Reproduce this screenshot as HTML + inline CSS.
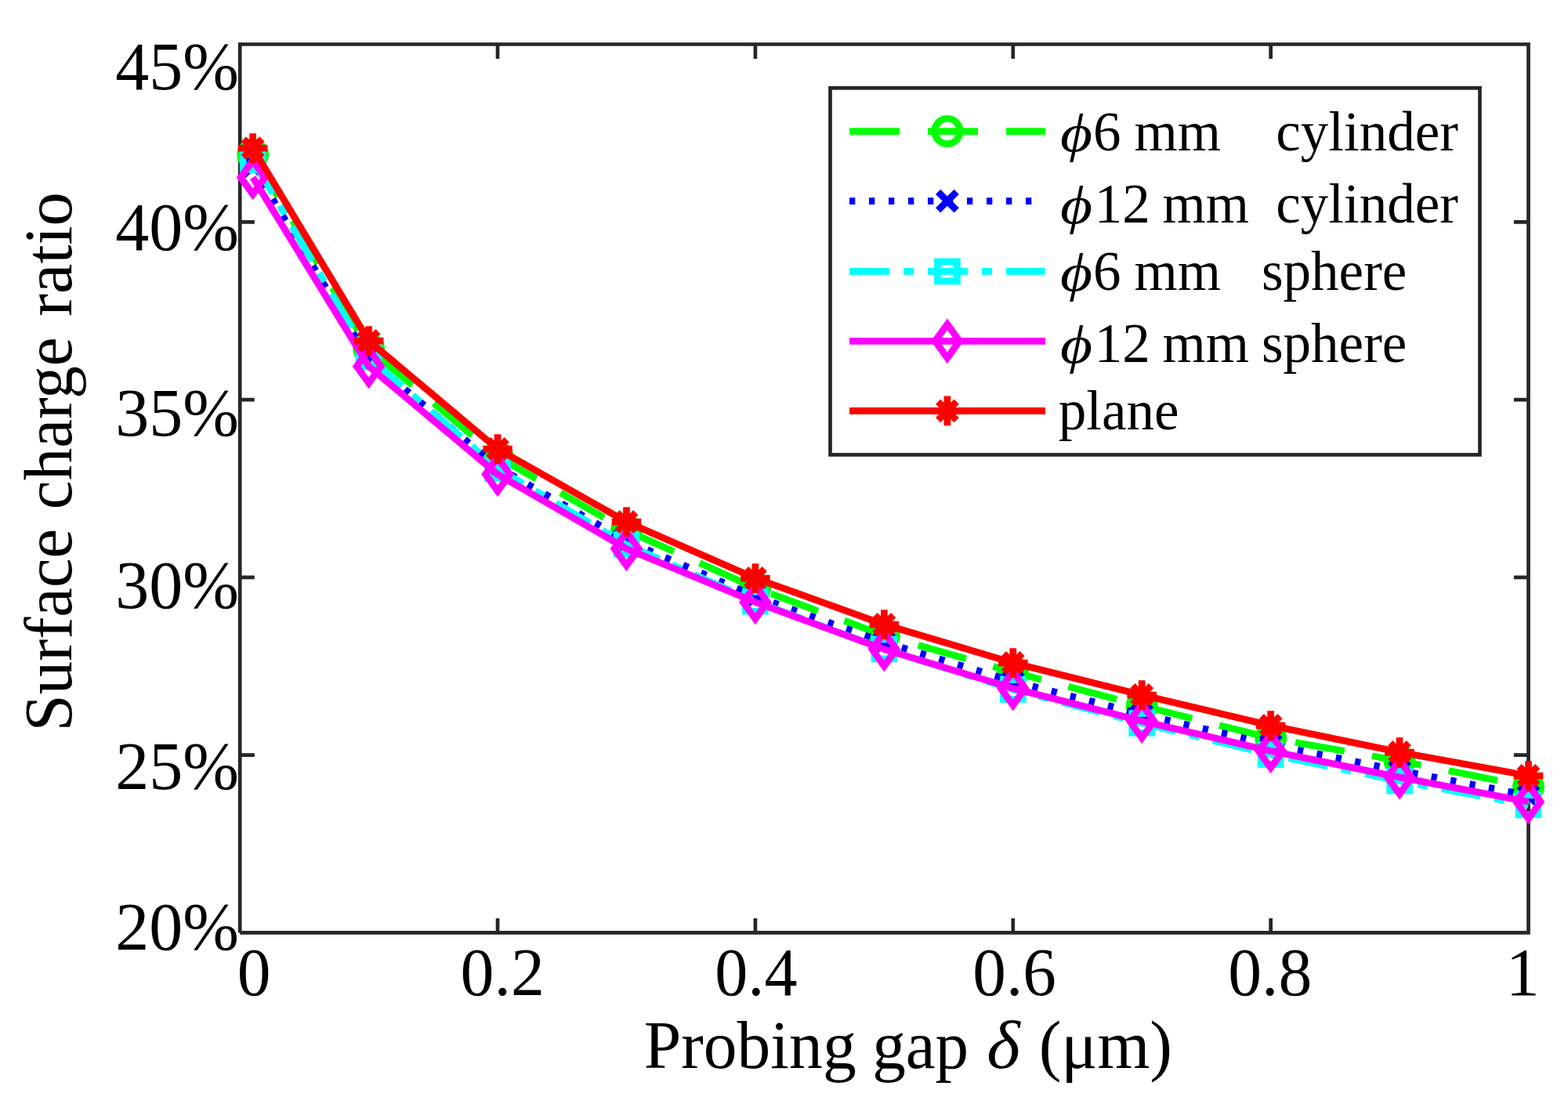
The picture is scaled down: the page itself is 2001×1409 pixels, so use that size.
<!DOCTYPE html>
<html><head><meta charset="utf-8"><title>Surface charge ratio vs probing gap</title>
<style>html,body{margin:0;padding:0;background:#fff;overflow:hidden}svg{display:block}</style></head>
<body>
<svg width="2001" height="1409" viewBox="0 0 2001 1409">
<path d="M635.06,1190.4V1172M635.06,56.5V74.9M963.92,1190.4V1172M963.92,56.5V74.9M1292.78,1190.4V1172M1292.78,56.5V74.9M1621.64,1190.4V1172M1621.64,56.5V74.9M306.2,963.62H324.8M1950.5,963.62H1931.9M306.2,736.84H324.8M1950.5,736.84H1931.9M306.2,510.06H324.8M1950.5,510.06H1931.9M306.2,283.28H324.8M1950.5,283.28H1931.9" stroke="#262626" stroke-width="4.7" fill="none"/>
<path d="M306.2,1190.4V56.5H1950.5V1190.4H306.2" stroke="#262626" stroke-width="4.7" fill="none"/>
<polyline points="322.64,197 470.63,445 635.06,583 799.49,677 963.92,750.3 1128.35,811 1292.78,857.8 1457.21,901 1621.64,942 1786.07,971 1950.5,1004" stroke="#00ff00" stroke-width="8.75" fill="none" stroke-dasharray="63.65 35.8" stroke-dashoffset="0.7"/>
<circle cx="322.64" cy="197" r="16.1" stroke="#00ff00" stroke-width="8.75" fill="none"/>
<circle cx="470.63" cy="445" r="16.1" stroke="#00ff00" stroke-width="8.75" fill="none"/>
<circle cx="635.06" cy="583" r="16.1" stroke="#00ff00" stroke-width="8.75" fill="none"/>
<circle cx="799.49" cy="677" r="16.1" stroke="#00ff00" stroke-width="8.75" fill="none"/>
<circle cx="963.92" cy="750.3" r="16.1" stroke="#00ff00" stroke-width="8.75" fill="none"/>
<circle cx="1128.35" cy="811" r="16.1" stroke="#00ff00" stroke-width="8.75" fill="none"/>
<circle cx="1292.78" cy="857.8" r="16.1" stroke="#00ff00" stroke-width="8.75" fill="none"/>
<circle cx="1457.21" cy="901" r="16.1" stroke="#00ff00" stroke-width="8.75" fill="none"/>
<circle cx="1621.64" cy="942" r="16.1" stroke="#00ff00" stroke-width="8.75" fill="none"/>
<circle cx="1786.07" cy="971" r="16.1" stroke="#00ff00" stroke-width="8.75" fill="none"/>
<circle cx="1950.5" cy="1004" r="16.1" stroke="#00ff00" stroke-width="8.75" fill="none"/>
<polyline points="322.64,212 470.63,458 635.06,596 799.49,690 963.92,761 1128.35,819.6 1292.78,869.5 1457.21,911.5 1621.64,950 1786.07,983.4 1950.5,1015" stroke="#0000ff" stroke-width="8.75" fill="none" stroke-dasharray="7.26 17.6" stroke-dashoffset="0.7"/>
<path d="M310.84,200.2L334.44,223.8M334.44,200.2L310.84,223.8" stroke="#0000ff" stroke-width="8.75" fill="none"/>
<path d="M458.83,446.2L482.43,469.8M482.43,446.2L458.83,469.8" stroke="#0000ff" stroke-width="8.75" fill="none"/>
<path d="M623.26,584.2L646.86,607.8M646.86,584.2L623.26,607.8" stroke="#0000ff" stroke-width="8.75" fill="none"/>
<path d="M787.69,678.2L811.29,701.8M811.29,678.2L787.69,701.8" stroke="#0000ff" stroke-width="8.75" fill="none"/>
<path d="M952.12,749.2L975.72,772.8M975.72,749.2L952.12,772.8" stroke="#0000ff" stroke-width="8.75" fill="none"/>
<path d="M1116.55,807.8L1140.15,831.4M1140.15,807.8L1116.55,831.4" stroke="#0000ff" stroke-width="8.75" fill="none"/>
<path d="M1280.98,857.7L1304.58,881.3M1304.58,857.7L1280.98,881.3" stroke="#0000ff" stroke-width="8.75" fill="none"/>
<path d="M1445.41,899.7L1469.01,923.3M1469.01,899.7L1445.41,923.3" stroke="#0000ff" stroke-width="8.75" fill="none"/>
<path d="M1609.84,938.2L1633.44,961.8M1633.44,938.2L1609.84,961.8" stroke="#0000ff" stroke-width="8.75" fill="none"/>
<path d="M1774.27,971.6L1797.87,995.2M1797.87,971.6L1774.27,995.2" stroke="#0000ff" stroke-width="8.75" fill="none"/>
<path d="M1938.7,1003.2L1962.3,1026.8M1962.3,1003.2L1938.7,1026.8" stroke="#0000ff" stroke-width="8.75" fill="none"/>
<polyline points="322.64,204 470.63,456 635.06,598 799.49,695 963.92,767.7 1128.35,828.4 1292.78,880 1457.21,923 1621.64,963 1786.07,996.8 1950.5,1027.3" stroke="#00ffff" stroke-width="8.75" fill="none" stroke-dasharray="50.72 17.9 12.93 17.9" stroke-dashoffset="0.7"/>
<rect x="310.19" y="191.55" width="24.9" height="24.9" stroke="#00ffff" stroke-width="8.75" fill="none"/>
<rect x="458.18" y="443.55" width="24.9" height="24.9" stroke="#00ffff" stroke-width="8.75" fill="none"/>
<rect x="622.61" y="585.55" width="24.9" height="24.9" stroke="#00ffff" stroke-width="8.75" fill="none"/>
<rect x="787.04" y="682.55" width="24.9" height="24.9" stroke="#00ffff" stroke-width="8.75" fill="none"/>
<rect x="951.47" y="755.25" width="24.9" height="24.9" stroke="#00ffff" stroke-width="8.75" fill="none"/>
<rect x="1115.9" y="815.95" width="24.9" height="24.9" stroke="#00ffff" stroke-width="8.75" fill="none"/>
<rect x="1280.33" y="867.55" width="24.9" height="24.9" stroke="#00ffff" stroke-width="8.75" fill="none"/>
<rect x="1444.76" y="910.55" width="24.9" height="24.9" stroke="#00ffff" stroke-width="8.75" fill="none"/>
<rect x="1609.19" y="950.55" width="24.9" height="24.9" stroke="#00ffff" stroke-width="8.75" fill="none"/>
<rect x="1773.62" y="984.35" width="24.9" height="24.9" stroke="#00ffff" stroke-width="8.75" fill="none"/>
<rect x="1938.05" y="1014.85" width="24.9" height="24.9" stroke="#00ffff" stroke-width="8.75" fill="none"/>
<polyline points="322.64,226.4 470.63,467.5 635.06,605.3 799.49,700.3 963.92,768.5 1128.35,828.6 1292.78,878.6 1457.21,920.3 1621.64,958.5 1786.07,992 1950.5,1023.3" stroke="#ff00ff" stroke-width="8.75" fill="none"/>
<path d="M322.64,205L338.14,226.4L322.64,247.8L307.14,226.4Z" stroke="#ff00ff" stroke-width="8.75" fill="none"/>
<path d="M470.63,446.1L486.13,467.5L470.63,488.9L455.13,467.5Z" stroke="#ff00ff" stroke-width="8.75" fill="none"/>
<path d="M635.06,583.9L650.56,605.3L635.06,626.7L619.56,605.3Z" stroke="#ff00ff" stroke-width="8.75" fill="none"/>
<path d="M799.49,678.9L814.99,700.3L799.49,721.7L783.99,700.3Z" stroke="#ff00ff" stroke-width="8.75" fill="none"/>
<path d="M963.92,747.1L979.42,768.5L963.92,789.9L948.42,768.5Z" stroke="#ff00ff" stroke-width="8.75" fill="none"/>
<path d="M1128.35,807.2L1143.85,828.6L1128.35,850L1112.85,828.6Z" stroke="#ff00ff" stroke-width="8.75" fill="none"/>
<path d="M1292.78,857.2L1308.28,878.6L1292.78,900L1277.28,878.6Z" stroke="#ff00ff" stroke-width="8.75" fill="none"/>
<path d="M1457.21,898.9L1472.71,920.3L1457.21,941.7L1441.71,920.3Z" stroke="#ff00ff" stroke-width="8.75" fill="none"/>
<path d="M1621.64,937.1L1637.14,958.5L1621.64,979.9L1606.14,958.5Z" stroke="#ff00ff" stroke-width="8.75" fill="none"/>
<path d="M1786.07,970.6L1801.57,992L1786.07,1013.4L1770.57,992Z" stroke="#ff00ff" stroke-width="8.75" fill="none"/>
<path d="M1950.5,1001.9L1966,1023.3L1950.5,1044.7L1935,1023.3Z" stroke="#ff00ff" stroke-width="8.75" fill="none"/>
<polyline points="322.64,189.1 470.63,435 635.06,573 799.49,666 963.92,738 1128.35,797 1292.78,846 1457.21,887 1621.64,926 1786.07,960 1950.5,990" stroke="#ff0000" stroke-width="8.75" fill="none"/>
<path d="M322.64,170.3V207.9M303.84,189.1H341.44M310.84,177.3L334.44,200.9M334.44,177.3L310.84,200.9" stroke="#ff0000" stroke-width="8.75" fill="none"/>
<path d="M470.63,416.2V453.8M451.83,435H489.43M458.83,423.2L482.43,446.8M482.43,423.2L458.83,446.8" stroke="#ff0000" stroke-width="8.75" fill="none"/>
<path d="M635.06,554.2V591.8M616.26,573H653.86M623.26,561.2L646.86,584.8M646.86,561.2L623.26,584.8" stroke="#ff0000" stroke-width="8.75" fill="none"/>
<path d="M799.49,647.2V684.8M780.69,666H818.29M787.69,654.2L811.29,677.8M811.29,654.2L787.69,677.8" stroke="#ff0000" stroke-width="8.75" fill="none"/>
<path d="M963.92,719.2V756.8M945.12,738H982.72M952.12,726.2L975.72,749.8M975.72,726.2L952.12,749.8" stroke="#ff0000" stroke-width="8.75" fill="none"/>
<path d="M1128.35,778.2V815.8M1109.55,797H1147.15M1116.55,785.2L1140.15,808.8M1140.15,785.2L1116.55,808.8" stroke="#ff0000" stroke-width="8.75" fill="none"/>
<path d="M1292.78,827.2V864.8M1273.98,846H1311.58M1280.98,834.2L1304.58,857.8M1304.58,834.2L1280.98,857.8" stroke="#ff0000" stroke-width="8.75" fill="none"/>
<path d="M1457.21,868.2V905.8M1438.41,887H1476.01M1445.41,875.2L1469.01,898.8M1469.01,875.2L1445.41,898.8" stroke="#ff0000" stroke-width="8.75" fill="none"/>
<path d="M1621.64,907.2V944.8M1602.84,926H1640.44M1609.84,914.2L1633.44,937.8M1633.44,914.2L1609.84,937.8" stroke="#ff0000" stroke-width="8.75" fill="none"/>
<path d="M1786.07,941.2V978.8M1767.27,960H1804.87M1774.27,948.2L1797.87,971.8M1797.87,948.2L1774.27,971.8" stroke="#ff0000" stroke-width="8.75" fill="none"/>
<path d="M1950.5,971.2V1008.8M1931.7,990H1969.3M1938.7,978.2L1962.3,1001.8M1962.3,978.2L1938.7,1001.8" stroke="#ff0000" stroke-width="8.75" fill="none"/>
<rect x="1059.5" y="112.35" width="829" height="468.05" fill="#fff" stroke="#262626" stroke-width="4.7"/>
<line x1="1084" y1="167.5" x2="1334" y2="167.5" stroke="#00ff00" stroke-width="8.75" stroke-dasharray="64 36"/>
<circle cx="1208.9" cy="167.5" r="16.1" stroke="#00ff00" stroke-width="8.75" fill="none"/>
<line x1="1084" y1="256.6" x2="1334" y2="256.6" stroke="#0000ff" stroke-width="8.75" stroke-dasharray="7.3 17.7"/>
<path d="M1197.1,244.8L1220.7,268.4M1220.7,244.8L1197.1,268.4" stroke="#0000ff" stroke-width="8.75" fill="none"/>
<line x1="1084" y1="346.4" x2="1334" y2="346.4" stroke="#00ffff" stroke-width="8.75" stroke-dasharray="51 18 13 18"/>
<rect x="1196.45" y="333.95" width="24.9" height="24.9" stroke="#00ffff" stroke-width="8.75" fill="none"/>
<line x1="1084" y1="435.3" x2="1334" y2="435.3" stroke="#ff00ff" stroke-width="8.75"/>
<path d="M1208.9,413.9L1224.4,435.3L1208.9,456.7L1193.4,435.3Z" stroke="#ff00ff" stroke-width="8.75" fill="none"/>
<line x1="1084" y1="524.4" x2="1334" y2="524.4" stroke="#ff0000" stroke-width="8.75"/>
<path d="M1208.9,505.6V543.2M1190.1,524.4H1227.7M1197.1,512.6L1220.7,536.2M1220.7,512.6L1197.1,536.2" stroke="#ff0000" stroke-width="8.75" fill="none"/>
<text x="147.3" y="113.99" font-size="86" font-family="'Liberation Serif', 'Times New Roman', serif">45%</text>
<text x="147.3" y="319.19" font-size="86" font-family="'Liberation Serif', 'Times New Roman', serif">40%</text>
<text x="147.3" y="555.89" font-size="86" font-family="'Liberation Serif', 'Times New Roman', serif">35%</text>
<text x="147.3" y="776.19" font-size="86" font-family="'Liberation Serif', 'Times New Roman', serif">30%</text>
<text x="147.3" y="1007.19" font-size="86" font-family="'Liberation Serif', 'Times New Roman', serif">25%</text>
<text x="147.3" y="1211.89" font-size="86" font-family="'Liberation Serif', 'Times New Roman', serif">20%</text>
<text transform="translate(302.74,1269.8) scale(0.9959,1)" font-size="86" font-family="'Liberation Serif', 'Times New Roman', serif">0</text>
<text x="587.51" y="1269.8" font-size="86" font-family="'Liberation Serif', 'Times New Roman', serif">0.2</text>
<text transform="translate(912.29,1269.8) scale(0.9788,1)" font-size="86" font-family="'Liberation Serif', 'Times New Roman', serif">0.4</text>
<text transform="translate(1241.36,1269.8) scale(0.9905,1)" font-size="86" font-family="'Liberation Serif', 'Times New Roman', serif">0.6</text>
<text transform="translate(1567.24,1269.8) scale(0.9956,1)" font-size="86" font-family="'Liberation Serif', 'Times New Roman', serif">0.8</text>
<text x="1921.8" y="1269.8" font-size="86" font-family="'Liberation Serif', 'Times New Roman', serif">1</text>
<text transform="translate(821.73,1362.8) scale(0.9950,1)" font-size="86" font-family="'Liberation Serif', 'Times New Roman', serif">Probing</text>
<text transform="translate(1113.14,1362.8) scale(0.9896,1)" font-size="86" font-family="'Liberation Serif', 'Times New Roman', serif">gap</text>
<text transform="translate(1259.32,1362.8) scale(1.0624,1)" font-size="86" font-family="'Liberation Serif', 'Times New Roman', serif" font-style="italic">&#x3b4;</text>
<text x="1325.71" y="1362.8" font-size="86" font-family="'Liberation Serif', 'Times New Roman', serif">(&#x3bc;m)</text>
<text transform="translate(91.3,933.46) rotate(-90) scale(0.9847,1)" font-size="86" font-family="'Liberation Serif', 'Times New Roman', serif">Surface</text>
<text transform="translate(91.3,650.16) rotate(-90) scale(0.9655,1)" font-size="86" font-family="'Liberation Serif', 'Times New Roman', serif">charge</text>
<text transform="translate(91.3,403.73) rotate(-90) scale(1.0066,1)" font-size="86" font-family="'Liberation Serif', 'Times New Roman', serif">ratio</text>
<text transform="translate(1353.08,193.3) scale(1.12,0.95)" font-size="71" font-family="'Liberation Serif', 'Times New Roman', serif" font-style="italic">&#x3d5;</text>
<text x="1394.95" y="192.3" font-size="71" font-family="'Liberation Serif', 'Times New Roman', serif">6</text>
<text x="1447.51" y="192.3" font-size="71" font-family="'Liberation Serif', 'Times New Roman', serif">mm</text>
<text x="1628.3" y="192.3" font-size="71" font-family="'Liberation Serif', 'Times New Roman', serif">cylinder</text>
<text transform="translate(1353.08,285) scale(1.12,0.95)" font-size="71" font-family="'Liberation Serif', 'Times New Roman', serif" font-style="italic">&#x3d5;</text>
<text x="1396.76" y="284" font-size="71" font-family="'Liberation Serif', 'Times New Roman', serif">12</text>
<text x="1483.51" y="284" font-size="71" font-family="'Liberation Serif', 'Times New Roman', serif">mm</text>
<text x="1628.3" y="284" font-size="71" font-family="'Liberation Serif', 'Times New Roman', serif">cylinder</text>
<text transform="translate(1353.08,371) scale(1.12,0.95)" font-size="71" font-family="'Liberation Serif', 'Times New Roman', serif" font-style="italic">&#x3d5;</text>
<text x="1394.95" y="370" font-size="71" font-family="'Liberation Serif', 'Times New Roman', serif">6</text>
<text x="1447.51" y="370" font-size="71" font-family="'Liberation Serif', 'Times New Roman', serif">mm</text>
<text x="1609.99" y="370" font-size="71" font-family="'Liberation Serif', 'Times New Roman', serif">sphere</text>
<text transform="translate(1353.08,463.3) scale(1.12,0.95)" font-size="71" font-family="'Liberation Serif', 'Times New Roman', serif" font-style="italic">&#x3d5;</text>
<text x="1396.76" y="462.3" font-size="71" font-family="'Liberation Serif', 'Times New Roman', serif">12</text>
<text x="1483.51" y="462.3" font-size="71" font-family="'Liberation Serif', 'Times New Roman', serif">mm</text>
<text x="1609.99" y="462.3" font-size="71" font-family="'Liberation Serif', 'Times New Roman', serif">sphere</text>
<text x="1350.66" y="548.2" font-size="71" font-family="'Liberation Serif', 'Times New Roman', serif">plane</text>
</svg>
</body></html>
